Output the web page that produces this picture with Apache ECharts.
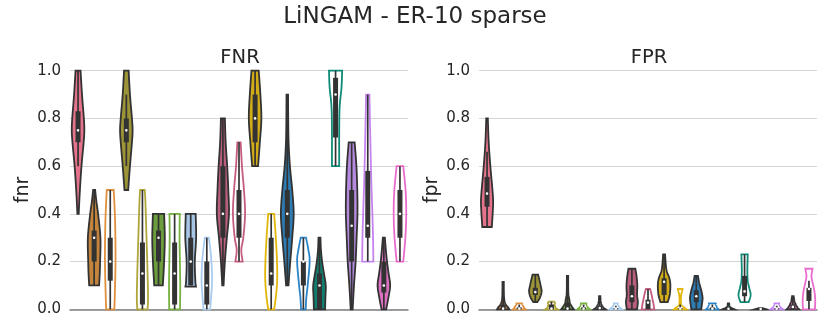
<!DOCTYPE html>
<html>
<head>
<meta charset="utf-8">
<script src="https://cdn.jsdelivr.net/npm/echarts@6/dist/echarts.min.js"></script>
<style>
  html, body { margin: 0; padding: 0; background: #fff; }
  #main { width: 830px; height: 332px; }
</style>
</head>
<body>
<div id="main"></div>
<script>
// 21 violins per panel: first one alone, then pairs (filled / outline only) per hue
var slotHue = [0, 1, 1, 2, 2, 3, 3, 4, 4, 5, 5, 6, 6, 7, 7, 8, 8, 9, 9, 10, 10];
var slotFilled = [1, 1, 0, 1, 0, 1, 0, 1, 0, 1, 0, 1, 0, 1, 0, 1, 0, 1, 0, 1, 0];
var fillColors = ['#e6738c', '#c5843c', '#9c9436', '#6c9d3c', '#a7c6e6', '#b95e7d',
  '#d3ad18', '#2e7cb4', '#117f6f', '#b68ade', '#de70c1'];
var lineColors = ['#e6738c', '#e08f3c', '#afa63a', '#77b13f', '#a9ccee', '#c45c80',
  '#e2b50a', '#2b84c5', '#0f8a79', '#c484f0', '#e96ccd'];
var yTicks = [0, 0.2, 0.4, 0.6, 0.8, 1.0];

// outline of each violin: [value, relative half width]
var fnrShapes = [
  [[0.4, 0.1], [0.5, 0.28], [0.6, 0.52], [0.7, 0.85], [0.75, 0.95], [0.8, 0.88], [0.9, 0.6], [1.0, 0.38]],
  [[0.1, 0.75], [0.15, 0.85], [0.2, 0.9], [0.3, 0.95], [0.4, 0.6], [0.45, 0.35], [0.5, 0.15]],
  [[0, 0.62], [0.05, 0.68], [0.2, 0.8], [0.35, 0.75], [0.45, 0.62], [0.5, 0.52]],
  [[0.5, 0.28], [0.6, 0.55], [0.7, 0.85], [0.75, 0.95], [0.8, 0.85], [0.9, 0.55], [1.0, 0.35]],
  [[0, 0.78], [0.05, 0.85], [0.15, 0.78], [0.3, 0.62], [0.45, 0.45], [0.5, 0.35]],
  [[0.1, 0.65], [0.2, 0.85], [0.3, 0.95], [0.4, 0.85]],
  [[0, 0.82], [0.1, 0.85], [0.2, 0.8], [0.3, 0.75], [0.4, 0.78]],
  [[0.095, 0.8], [0.12, 0.7], [0.2, 0.62], [0.3, 0.82], [0.4, 0.75]],
  [[0, 0.5], [0.05, 0.65], [0.12, 0.8], [0.2, 0.7], [0.27, 0.45], [0.3, 0.3]],
  [[0.1, 0.1], [0.2, 0.3], [0.3, 0.6], [0.4, 0.92], [0.5, 0.82], [0.6, 0.65], [0.7, 0.42], [0.8, 0.3]],
  [[0.2, 0.55], [0.25, 0.35], [0.3, 0.65], [0.4, 0.92], [0.5, 0.75], [0.6, 0.45], [0.7, 0.25]],
  [[0.6, 0.45], [0.7, 0.72], [0.8, 0.95], [0.9, 0.8], [1.0, 0.55]],
  [[0, 0.45], [0.05, 0.7], [0.12, 0.9], [0.2, 0.88], [0.3, 0.7], [0.4, 0.45]],
  [[0.1, 0.18], [0.2, 0.45], [0.3, 0.75], [0.4, 0.97], [0.5, 0.75], [0.6, 0.4], [0.7, 0.2], [0.8, 0.14], [0.9, 0.12]],
  [[0, 0.35], [0.05, 0.45], [0.1, 0.65], [0.2, 0.95], [0.25, 0.75], [0.3, 0.4]],
  [[0, 0.85], [0.05, 0.9], [0.1, 0.95], [0.15, 0.68], [0.2, 0.4], [0.25, 0.22], [0.3, 0.15]],
  [[0.6, 0.55], [0.75, 0.55], [0.85, 0.62], [0.93, 0.9], [1.0, 1.0]],
  [[0, 0.15], [0.1, 0.35], [0.2, 0.6], [0.3, 0.75], [0.4, 0.88], [0.5, 0.85], [0.6, 0.72], [0.7, 0.45]],
  [[0.2, 0.85], [0.3, 0.8], [0.4, 0.7], [0.5, 0.58], [0.6, 0.48], [0.7, 0.4], [0.8, 0.32], [0.9, 0.25]],
  [[0, 0.35], [0.05, 0.7], [0.1, 0.95], [0.15, 0.72], [0.2, 0.48], [0.25, 0.3], [0.3, 0.15]],
  [[0.2, 0.5], [0.3, 0.82], [0.4, 0.95], [0.5, 0.85], [0.6, 0.5]]
];
// inner box: [whisker low, q1, median, q3, whisker high]
var fnrBoxes = [
  [0.6, 0.7, 0.75, 0.83, 1.0], [0.1, 0.2, 0.3, 0.33, 0.5], [0, 0.12, 0.2, 0.3, 0.5],
  [0.6, 0.7, 0.75, 0.8, 0.9], [0, 0.02, 0.15, 0.28, 0.5], [0.1, 0.2, 0.3, 0.33, 0.4],
  [0, 0.02, 0.15, 0.28, 0.4], [0.1, 0.1, 0.2, 0.3, 0.4], [0, 0.02, 0.1, 0.2, 0.3],
  [0.1, 0.3, 0.4, 0.6, 0.8], [0.2, 0.3, 0.4, 0.5, 0.7], [0.6, 0.7, 0.8, 0.9, 1.0],
  [0, 0.1, 0.15, 0.3, 0.4], [0.1, 0.3, 0.4, 0.5, 0.8], [0, 0.1, 0.2, 0.2, 0.3],
  [0, 0, 0.1, 0.15, 0.3], [0.6, 0.72, 0.9, 0.97, 1.0], [0, 0.2, 0.35, 0.5, 0.7],
  [0.2, 0.3, 0.35, 0.58, 0.9], [0, 0.07, 0.1, 0.2, 0.3], [0.2, 0.3, 0.4, 0.5, 0.6]
];

var fprShapes = [
  [[0.345, 0.72], [0.4, 0.85], [0.45, 0.92], [0.5, 0.82], [0.6, 0.5], [0.7, 0.25], [0.8, 0.12]],
  [[0, 0.92], [0.008, 0.75], [0.02, 0.42], [0.035, 0.22], [0.06, 0.12], [0.115, 0.1]],
  [[0, 0.95], [0.008, 0.7], [0.018, 0.5], [0.025, 0.42]],
  [[0.03, 0.3], [0.05, 0.72], [0.075, 0.95], [0.1, 0.8], [0.125, 0.6], [0.145, 0.42]],
  [[0, 0.95], [0.008, 0.6], [0.018, 0.45], [0.026, 0.55], [0.032, 0.4]],
  [[0, 0.95], [0.01, 0.7], [0.025, 0.4], [0.045, 0.25], [0.07, 0.12], [0.14, 0.1]],
  [[0, 0.95], [0.008, 0.65], [0.018, 0.45], [0.025, 0.42]],
  [[0, 0.9], [0.008, 0.55], [0.02, 0.3], [0.035, 0.15], [0.055, 0.1]],
  [[0, 0.95], [0.008, 0.6], [0.016, 0.35], [0.025, 0.3]],
  [[0, 0.78], [0.03, 0.9], [0.06, 0.78], [0.1, 0.82], [0.14, 0.7], [0.17, 0.52]],
  [[0, 0.95], [0.02, 0.85], [0.04, 0.7], [0.06, 0.55], [0.08, 0.38], [0.085, 0.3]],
  [[0.03, 0.55], [0.06, 0.85], [0.1, 0.95], [0.13, 0.8], [0.16, 0.4], [0.19, 0.25], [0.23, 0.15]],
  [[0, 0.95], [0.01, 0.5], [0.02, 0.15], [0.04, 0.1], [0.06, 0.14], [0.075, 0.28], [0.085, 0.35]],
  [[0, 0.75], [0.03, 0.9], [0.05, 0.95], [0.08, 0.75], [0.11, 0.45], [0.14, 0.25]],
  [[0, 0.95], [0.008, 0.72], [0.018, 0.55], [0.025, 0.5]],
  [[0, 0.9], [0.006, 0.45], [0.012, 0.2], [0.025, 0.1]],
  [[0.03, 0.62], [0.06, 0.92], [0.09, 0.7], [0.12, 0.48], [0.16, 0.42], [0.2, 0.45], [0.23, 0.48]],
  [[0, 0.9], [0.005, 0.3]],
  [[0, 0.95], [0.008, 0.6], [0.018, 0.4], [0.025, 0.35]],
  [[0, 0.95], [0.008, 0.7], [0.02, 0.45], [0.035, 0.25], [0.055, 0.12]],
  [[0, 0.9], [0.04, 0.95], [0.08, 0.8], [0.12, 0.48], [0.14, 0.38], [0.16, 0.48], [0.17, 0.55]]
];
var fprBoxes = [
  [0.345, 0.43, 0.485, 0.555, 0.66], [0, 0, 0.003, 0.02, 0.05], [0, 0, 0.003, 0.008, 0.02],
  [0.03, 0.06, 0.072, 0.09, 0.145], [0, 0, 0.003, 0.02, 0.032], [0, 0, 0.003, 0.03, 0.07],
  [0, 0, 0.003, 0.008, 0.02], [0, 0, 0.005, 0.015, 0.04], [0, 0, 0.003, 0.005, 0.015],
  [0, 0.03, 0.055, 0.1, 0.17], [0, 0, 0.028, 0.04, 0.085], [0.03, 0.06, 0.115, 0.13, 0.23],
  [0, 0, 0.003, 0.005, 0.02], [0, 0.03, 0.055, 0.08, 0.14], [0, 0, 0.003, 0.008, 0.02],
  [0, 0, 0.002, 0.004, 0.01], [0.03, 0.055, 0.075, 0.14, 0.23], [0, 0, 0.001, 0.002, 0.005],
  [0, 0, 0.003, 0.005, 0.015], [0, 0, 0.01, 0.02, 0.05], [0, 0.035, 0.085, 0.09, 0.12]
];

var slots = slotHue.map(function (h, i) { return 's' + i; });

// catmull-rom through the outline points so the violin edge is curved
function smoothProfile(pts, steps) {
  if (pts.length < 3) return pts;
  var out = [];
  for (var k = 0; k < pts.length - 1; k++) {
    var p0 = pts[Math.max(k - 1, 0)], p1 = pts[k], p2 = pts[k + 1], p3 = pts[Math.min(k + 2, pts.length - 1)];
    for (var s = 0; s < steps; s++) {
      var t = s / steps, t2 = t * t, t3 = t2 * t;
      out.push([0, 1].map(function (d) {
        return 0.5 * (2 * p1[d] + (-p0[d] + p2[d]) * t +
          (2 * p0[d] - 5 * p1[d] + 4 * p2[d] - p3[d]) * t2 +
          (-p0[d] + 3 * p1[d] - 3 * p2[d] + p3[d]) * t3);
      }));
    }
  }
  out.push(pts[pts.length - 1]);
  return out.map(function (c) { return [c[0], Math.max(c[1], 0.4)]; });
}

function makeRender(shapes, boxes) {
  return function (params, api) {
    var i = api.value(0);
    var cx = api.coord([i, 0])[0];
    var half = api.size([1, 0])[0] * 0.41;
    var y = function (v) { return api.coord([i, v])[1]; };
    var pts = shapes[i].map(function (p) { return [y(p[0]), p[1] * half]; });
    var curve = smoothProfile(pts, 8);
    var right = curve.map(function (c) { return [cx + c[1], c[0]]; });
    var left = curve.slice().reverse().map(function (c) { return [cx - c[1], c[0]]; });
    var hue = slotHue[i];
    var filled = slotFilled[i];
    var b = boxes[i];
    return {
      type: 'group',
      children: [
        {
          type: 'polygon',
          shape: { points: right.concat(left) },
          style: {
            fill: filled ? fillColors[hue] : 'none',
            stroke: filled ? '#333333' : lineColors[hue],
            lineWidth: 1.8
          }
        },
        {
          type: 'line',
          shape: { x1: cx, y1: y(b[0]), x2: cx, y2: y(b[4]) },
          style: { stroke: '#333333', lineWidth: 1.7 }
        },
        {
          type: 'rect',
          shape: { x: cx - 2.5, y: y(b[3]), width: 5, height: Math.max(y(b[1]) - y(b[3]), 0.6) },
          style: { fill: '#333333' }
        },
        {
          type: 'circle',
          shape: { cx: cx, cy: y(b[2]), r: 1.3 },
          style: { fill: '#ffffff' }
        }
      ]
    };
  };
}

function yAxisFor(idx, name) {
  return {
    type: 'value', gridIndex: idx, min: 0, max: 1, interval: 0.2,
    name: name, nameLocation: 'middle', nameGap: 37,
    nameTextStyle: { fontSize: 19, color: '#262626', fontFamily: 'DejaVu Sans' },
    axisLine: { show: false }, axisTick: { show: false },
    axisLabel: {
      fontSize: 15, color: '#262626', fontFamily: 'DejaVu Sans', margin: 9,
      formatter: function (v) { return v.toFixed(1); }
    },
    splitLine: { lineStyle: { color: '#d4d4d4', width: 1 } }
  };
}

function xAxisFor(idx) {
  return {
    type: 'category', gridIndex: idx, data: slots,
    axisLine: { show: true, lineStyle: { color: '#808080', width: 1.5 } },
    axisTick: { show: false }, axisLabel: { show: false }, splitLine: { show: false }
  };
}

function label(text, x, y, size) {
  return {
    type: 'text', x: x, y: y,
    style: {
      text: text, textAlign: 'center', textVerticalAlign: 'middle',
      fontSize: size, fill: '#262626', fontFamily: 'DejaVu Sans'
    }
  };
}

var chart = echarts.init(document.getElementById('main'));
var option = {
  backgroundColor: '#ffffff',
  animation: false,
  textStyle: { fontFamily: 'DejaVu Sans' },
  graphic: [
    label('LiNGAM - ER-10 sparse', 415, 17, 23),
    label('FNR', 240, 58, 19.5),
    label('FPR', 649, 58, 19.5)
  ],
  grid: [
    { left: 70, top: 70.7, width: 338, height: 238.6 },
    { left: 479, top: 70.7, width: 338, height: 238.6 }
  ],
  xAxis: [xAxisFor(0), xAxisFor(1)],
  yAxis: [yAxisFor(0, 'fnr'), yAxisFor(1, 'fpr')],
  series: [
    {
      type: 'custom', xAxisIndex: 0, yAxisIndex: 0,
      renderItem: makeRender(fnrShapes, fnrBoxes),
      encode: { x: 0, y: 1 },
      data: fnrShapes.map(function (s, i) { return [i, fnrBoxes[i][2]]; }),
      z: 3
    },
    {
      type: 'custom', xAxisIndex: 1, yAxisIndex: 1,
      renderItem: makeRender(fprShapes, fprBoxes),
      encode: { x: 0, y: 1 },
      data: fprShapes.map(function (s, i) { return [i, fprBoxes[i][2]]; }),
      z: 3
    }
  ]
};
chart.setOption(option);
</script>
</body>
</html>
